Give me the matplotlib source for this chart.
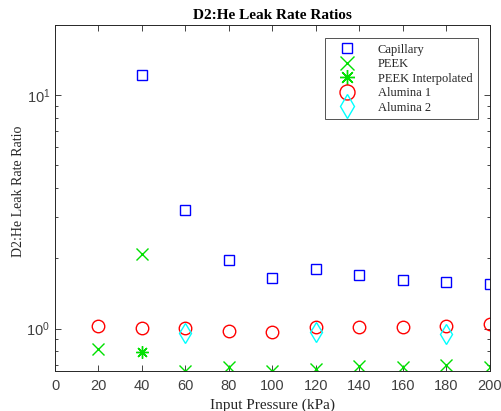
import numpy as np
import matplotlib
matplotlib.use('Agg')
from matplotlib import pyplot as plt
from matplotlib.ticker import LogLocator, NullFormatter

pressure = [20, 40, 60, 80, 100, 120, 140, 160, 180, 200]

cap_x = [40, 60, 80, 100, 120, 140, 160, 180, 200]
cap_y = [12.2, 3.23, 1.97, 1.655, 1.80, 1.69, 1.61, 1.58, 1.55]

peek_x = [20, 40, 60, 80, 100, 120, 140, 160, 180, 200]
peek_y = [0.818, 2.085, 0.658, 0.683, 0.66, 0.671, 0.694, 0.683, 0.698, 0.687]

peek_int_x = [40]
peek_int_y = [0.794]

alu1_y = [1.027, 1.01, 1.004, 0.98, 0.971, 1.013, 1.013, 1.02, 1.03, 1.047]

alu2_x = [60, 120, 180]
alu2_y = [0.961, 0.965, 0.949]

xticks = [0, 20, 40, 60, 80, 100, 120, 140, 160, 180, 200]

serif = 'Liberation Serif'
sans = 'Liberation Sans'

fig = plt.figure(figsize=(5.01, 4.11), dpi=100)
ax = fig.add_axes([0.1098, 0.0973, 0.868, 0.842])

ax.plot(cap_x, cap_y, 's', mfc='none', mec='blue', ms=6.5, mew=1, label='Capillary')
ax.plot(peek_x, peek_y, 'x', color='#00e000', ms=8, mew=1, label='PEEK')
ax.plot(peek_int_x, peek_int_y, marker=(8, 2, 0), ls='none', color='#00e000', ms=9, mew=1,
        label='PEEK Interpolated')
ax.plot(pressure, alu1_y, 'o', mfc='none', mec='red', ms=9, mew=1, label='Alumina 1')
ax.plot(alu2_x, alu2_y, 'd', mfc='none', mec='cyan', ms=10, mew=1, label='Alumina 2')

ax.set_yscale('log')
ax.set_xlim(0, 200)
ax.set_ylim(0.658, 20)
ax.set_xticks(xticks)
ax.yaxis.set_major_locator(LogLocator(base=10, numticks=10))
ax.yaxis.set_minor_locator(LogLocator(base=10, subs=np.arange(2, 10), numticks=10))
ax.yaxis.set_minor_formatter(NullFormatter())

ax.tick_params(which='both', direction='in', top=True, right=True, colors='#262626',
               labelcolor='#404040', width=0.6)
ax.tick_params(which='major', length=4, labelsize=10.5)
ax.tick_params(axis='x', pad=6)
ax.tick_params(which='minor', length=2.5)
for lab in ax.get_xticklabels() + ax.get_yticklabels():
    lab.set_family(sans)
for s in ax.spines.values():
    s.set_linewidth(0.7)
    s.set_color('#262626')

ax.set_title('D2:He Leak Rate Ratios', fontfamily=serif, fontweight='bold', fontsize=11, pad=4)
ax.set_xlabel('Input Pressure (kPa)', fontfamily=serif, fontsize=11, color='#262626', labelpad=4)
ax.set_ylabel('D2:He Leak Rate Ratio', fontfamily=serif, fontsize=10, color='#262626')
ax.yaxis.set_label_coords(-0.07, 0.52)

leg = ax.legend(loc='upper right', bbox_to_anchor=(0.9724, 0.9624), borderaxespad=0,
                prop={'family': serif, 'size': 9},
                frameon=True, fancybox=False, edgecolor='#262626', borderpad=0.45,
                labelspacing=0.2, handletextpad=1.1, markerscale=1.2, handlelength=2.7)
leg.get_frame().set_linewidth(0.7)
for t in leg.get_texts():
    t.set_color('#262626')

fig.savefig('out.png', dpi=100)
